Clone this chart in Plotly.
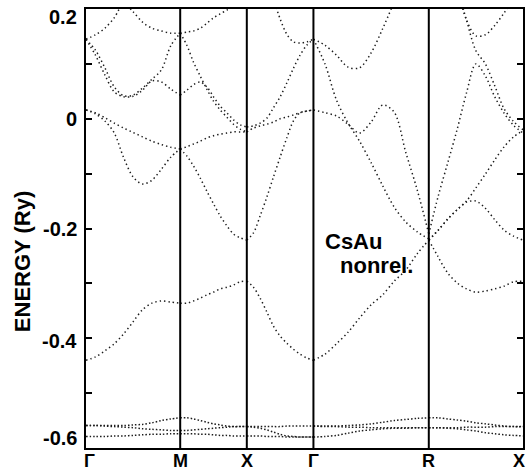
import plotly.graph_objects as go

# Path through the simple-cubic Brillouin zone (k in units of 2*pi/a)
sym_labels = ["Γ", "M", "X", "Γ", "R", "X"]
sym_k = [0.0, 0.7071, 1.2071, 1.7071, 2.5731, 3.2802]

# Sampling positions along every segment (fraction of the segment length)
t = [0.0, 0.1, 0.2, 0.3, 0.4, 0.5, 0.6, 0.7, 0.8, 0.9, 1.0]

# ---- Gamma -> M (energies in Ry) ----
GM_A = [-0.440, -0.434, -0.423, -0.410, -0.392, -0.370, -0.348, -0.336, -0.332, -0.334, -0.336]
GM_B = [0.016, 0.011, 0.002, -0.008, -0.017, -0.025, -0.033, -0.041, -0.047, -0.052, -0.055]
GM_C = [0.016, 0.009, -0.004, -0.026, -0.071, -0.106, -0.119, -0.112, -0.092, -0.070, -0.055]
GM_D = [0.145, 0.116, 0.080, 0.049, 0.040, 0.041, 0.052, 0.069, 0.067, 0.054, 0.043]
GM_E = [0.145, 0.125, 0.093, 0.058, 0.042, 0.043, 0.056, 0.072, 0.089, 0.133, 0.156]
GM_F = [0.145, 0.153, 0.165, 0.184, 0.210, 0.195, 0.176, 0.165, 0.160, 0.156, 0.156]
GM_p1 = [-0.559, -0.559, -0.559, -0.559, -0.559, -0.558, -0.557, -0.554, -0.550, -0.547, -0.545]
GM_p2 = [-0.559, -0.559, -0.560, -0.561, -0.562, -0.563, -0.565, -0.566, -0.567, -0.568, -0.568]
GM_p3 = [-0.579, -0.579, -0.579, -0.578, -0.578, -0.577, -0.576, -0.575, -0.575, -0.574, -0.574]

# ---- M -> X ----
MX_A = [-0.336, -0.336, -0.332, -0.327, -0.321, -0.316, -0.310, -0.307, -0.303, -0.297, -0.296]
MX_B = [-0.055, -0.051, -0.046, -0.041, -0.035, -0.031, -0.028, -0.026, -0.024, -0.024, -0.024]
MX_C = [-0.055, -0.068, -0.086, -0.108, -0.132, -0.155, -0.177, -0.195, -0.210, -0.217, -0.221]
MX_D = [0.043, 0.052, 0.062, 0.067, 0.058, 0.040, 0.023, 0.011, -0.002, -0.011, -0.015]
MX_E = [0.156, 0.134, 0.103, 0.078, 0.054, 0.032, 0.016, 0.003, -0.010, -0.019, -0.024]
MX_F = [0.156, 0.158, 0.160, 0.165, 0.174, 0.184, 0.191, 0.198, 0.205, 0.213, 0.220]
MX_p1 = [-0.545, -0.545, -0.547, -0.550, -0.553, -0.556, -0.558, -0.560, -0.561, -0.561, -0.561]
MX_p2 = [-0.568, -0.568, -0.567, -0.566, -0.565, -0.564, -0.563, -0.562, -0.561, -0.561, -0.561]
MX_p3 = [-0.574, -0.574, -0.574, -0.575, -0.575, -0.576, -0.577, -0.577, -0.578, -0.578, -0.578]

# ---- X -> Gamma ----
XG_A = [-0.296, -0.307, -0.327, -0.352, -0.378, -0.396, -0.409, -0.420, -0.429, -0.436, -0.440]
XG_B = [-0.024, -0.017, -0.013, -0.010, -0.006, 0.000, 0.003, 0.007, 0.011, 0.014, 0.016]
XG_C = [-0.221, -0.208, -0.177, -0.143, -0.106, -0.070, -0.035, -0.004, 0.011, 0.014, 0.016]
XG_D = [-0.015, -0.013, -0.008, 0.001, 0.020, 0.040, 0.065, 0.092, 0.116, 0.134, 0.145]
XG_G = [None, None, None, None, 0.218, 0.182, 0.154, 0.140, 0.138, 0.140, 0.145]
XG_p1 = [-0.561, -0.561, -0.561, -0.561, -0.561, -0.561, -0.560, -0.560, -0.560, -0.560, -0.560]
XG_p2 = [-0.561, -0.562, -0.564, -0.567, -0.571, -0.575, -0.578, -0.579, -0.580, -0.580, -0.580]
XG_p3 = [-0.578, -0.578, -0.578, -0.579, -0.579, -0.579, -0.580, -0.580, -0.580, -0.580, -0.580]

# ---- Gamma -> R ----
GR_A = [-0.440, -0.429, -0.410, -0.389, -0.363, -0.339, -0.321, -0.296, -0.276, -0.246, -0.221]
GR_B = [0.016, 0.011, 0.005, -0.010, -0.026, -0.006, 0.025, 0.012, -0.061, -0.130, -0.210]
GR_H = [0.145, 0.100, 0.034, -0.008, -0.041, -0.080, -0.122, -0.161, -0.188, -0.206, -0.219]
GR_J = [0.145, 0.134, 0.116, 0.094, 0.093, 0.120, 0.164, 0.213, None, None, None]
GR_p1 = [-0.560, -0.560, -0.560, -0.559, -0.558, -0.556, -0.553, -0.550, -0.548, -0.546, -0.545]
GR_p2 = [-0.560, -0.561, -0.561, -0.562, -0.562, -0.563, -0.563, -0.563, -0.563, -0.563, -0.563]
GR_p3 = [-0.580, -0.579, -0.577, -0.573, -0.569, -0.567, -0.565, -0.564, -0.564, -0.563, -0.563]

# ---- R -> X ----
RX_A = [-0.221, -0.252, -0.281, -0.299, -0.310, -0.316, -0.314, -0.310, -0.305, -0.297, -0.296]
RX_P = [-0.221, -0.203, -0.183, -0.166, -0.152, -0.150, -0.163, -0.184, -0.203, -0.214, -0.221]
RX_P2 = [-0.221, -0.203, -0.183, -0.166, -0.150, -0.126, -0.101, -0.075, -0.051, -0.033, -0.022]
RX_Q = [-0.210, -0.141, -0.081, -0.020, 0.047, 0.100, 0.078, 0.040, 0.010, -0.012, -0.026]
RX_T1 = [None, None, None, 0.240, 0.180, 0.124, 0.100, 0.060, 0.018, -0.005, -0.020]
RX_T2 = [None, None, None, 0.240, 0.180, 0.151, 0.153, 0.170, 0.193, 0.218, 0.245]
RX_p1 = [-0.545, -0.545, -0.547, -0.549, -0.551, -0.554, -0.556, -0.558, -0.560, -0.561, -0.561]
RX_p2 = [-0.563, -0.563, -0.563, -0.563, -0.562, -0.562, -0.562, -0.561, -0.561, -0.561, -0.561]
RX_p3 = [-0.563, -0.563, -0.564, -0.565, -0.567, -0.569, -0.572, -0.574, -0.576, -0.577, -0.578]

# Energy axis labels
ytick_vals = [0.2, 0.0, -0.2, -0.4, -0.6]
ytick_text = ["0.2", "0", "-0.2", "-0.4", "-0.6"]
yminor_vals = [0.2, 0.1, 0.0, -0.1, -0.2, -0.3, -0.4, -0.5, -0.6]

segments = [
    [GM_A, GM_B, GM_C, GM_D, GM_E, GM_F],
    [MX_A, MX_B, MX_C, MX_D, MX_E, MX_F],
    [XG_A, XG_B, XG_C, XG_D, XG_G],
    [GR_A, GR_B, GR_H, GR_J],
    [RX_A, RX_P, RX_P2, RX_Q, RX_T1, RX_T2],
]
core_segments = [
    [GM_p1, GM_p2, GM_p3],
    [MX_p1, MX_p2, MX_p3],
    [XG_p1, XG_p2, XG_p3],
    [GR_p1, GR_p2, GR_p3],
    [RX_p1, RX_p2, RX_p3],
]

FONT = "Liberation Sans, Arial, sans-serif"
INK = "#1c1c1c"

fig = go.Figure()


def add_bands(seg_list, dash):
    for i, bands in enumerate(seg_list):
        k0, k1 = sym_k[i], sym_k[i + 1]
        ks = [k0 + f * (k1 - k0) for f in t]
        for band in bands:
            fig.add_trace(go.Scatter(
                x=ks, y=band, mode="lines",
                line=dict(color=INK, width=1.5, dash=dash,
                          shape="spline", smoothing=0.9),
                connectgaps=False, hoverinfo="skip", showlegend=False,
            ))


add_bands(segments, "1.4px,3.0px")
add_bands(core_segments, "1.5px,2.0px")

# vertical lines through the interior symmetry points
for k in sym_k[1:-1]:
    fig.add_shape(type="line", xref="x", yref="paper", x0=k, x1=k, y0=0, y1=1,
                  line=dict(color="black", width=2))

annotations = []
label_shift = [-8, 0, 0, -3, 10]
for v, txt, dy in zip(ytick_vals, ytick_text, label_shift):
    annotations.append(dict(
        x=0, xref="paper", xanchor="right", xshift=-7,
        y=v, yref="y", yanchor="middle", yshift=dy,
        text="<b>%s</b>" % txt, showarrow=False,
        font=dict(family=FONT, size=20, color="black")))

x_shift = [3, 0, 0, 0, 0, -4]
for k, lab, dx in zip(sym_k, sym_labels, x_shift):
    annotations.append(dict(
        x=k, xref="x", xanchor="center", xshift=dx,
        y=0, yref="paper", yanchor="top", yshift=-1,
        text="<b>%s</b>" % lab, showarrow=False,
        font=dict(family=FONT, size=18, color="black")))

annotations.append(dict(
    x=-0.1435, xref="paper", y=0.424, yref="paper",
    text="<b>ENERGY (Ry)</b>", textangle=-90, showarrow=False,
    xanchor="center", yanchor="middle",
    font=dict(family=FONT, size=22, color="black")))
annotations.append(dict(
    x=0.6128, xref="paper", y=0.4715, yref="paper",
    text="<b>CsAu</b>", showarrow=False, xanchor="center", yanchor="middle",
    font=dict(family=FONT, size=22, color="black")))
annotations.append(dict(
    x=0.664, xref="paper", y=0.4146, yref="paper",
    text="<b>nonrel.</b>", showarrow=False, xanchor="center", yanchor="middle",
    font=dict(family=FONT, size=22, color="black")))

fig.update_layout(
    width=527, height=471,
    margin=dict(l=86, r=2, t=9, b=23),
    paper_bgcolor="white", plot_bgcolor="white",
    showlegend=False,
    annotations=annotations,
    xaxis=dict(range=[sym_k[0], sym_k[-1]], showgrid=False, zeroline=False,
               showline=True, linecolor="black", linewidth=1.6, mirror=True,
               ticks="", showticklabels=False),
    yaxis=dict(range=[-0.6, 0.2], showgrid=False, zeroline=False,
               showline=True, linecolor="black", linewidth=2, mirror="ticks",
               tickmode="array", tickvals=yminor_vals, ticks="inside",
               ticklen=6, tickwidth=1.5, tickcolor="black",
               showticklabels=False),
)

fig.write_html("out.html")
